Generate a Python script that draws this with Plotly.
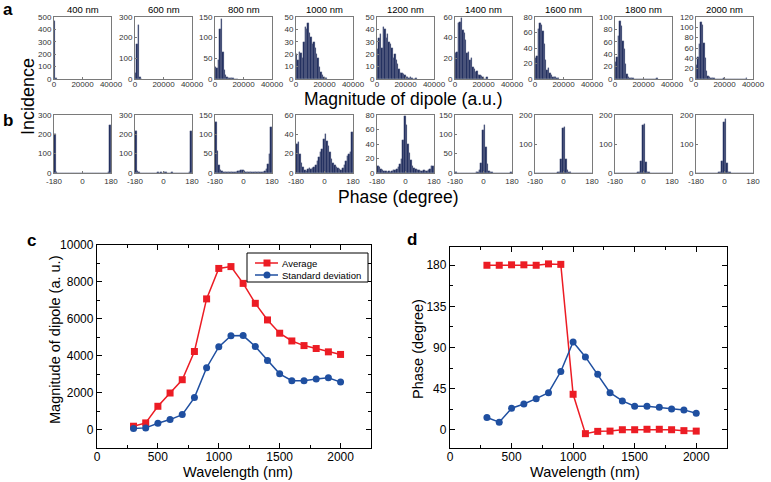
import numpy as np
import plotly.graph_objects as go

# --- histogram data (panel a: magnitude, bin width 1000 a.u.) ---
hist_titles = ['400 nm', '600 nm', '800 nm', '1000 nm', '1200 nm', '1400 nm', '1600 nm', '1800 nm', '2000 nm']

mag_400 = [465, 6]
mag_600 = [30, 170, 262, 8, 2]
mag_800 = [30, 26, 45, 122, 145, 66, 22, 10, 5, 3, 3, 2, 2, 1, 1, 1]
mag_1000 = [20, 15, 22, 21, 17, 30, 42, 40, 45, 37, 34, 28, 30, 25, 20, 17, 10, 6, 3, 2, 1, 1]
mag_1200 = [24, 33, 36, 25, 42, 40, 33, 36, 30, 28, 25, 17, 20, 15, 12, 8, 5, 5, 4, 3, 2, 2, 1, 2, 1, 0, 0, 1]
mag_1400 = [25, 26, 54, 55, 59, 47, 45, 38, 25, 26, 18, 20, 12, 10, 7, 8, 4, 4, 3, 2, 0, 0, 2]
mag_1600 = [27, 30, 65, 72, 70, 62, 45, 25, 12, 14, 8, 5, 3, 2, 2, 1, 1]
mag_1800 = [27, 35, 70, 94, 85, 62, 48, 25, 8, 4, 2, 1, 1, 0, 0, 0, 0, 0, 0, 0, 0, 0, 0, 0, 0, 0, 0, 0, 0, 2]
mag_2000 = [27, 42, 68, 110, 105, 70, 40, 15, 5, 3, 2, 1, 1, 0, 0, 0, 0, 0, 0, 1,
            0, 0, 0, 0, 0, 0, 0, 0, 0, 0, 0, 0, 0, 0, 0, 1]
mag_ymax = [500, 300, 150, 50, 50, 60, 80, 100, 120]
mag_dtick = [100, 100, 50, 10, 10, 20, 20, 20, 20]

# --- histogram data (panel b: phase, bin width 10 degree, -180..180) ---
ph_400 = [200, 5, 2, 1, 1, 1, 0, 1, 0, 1, 0, 0, 1, 0, 1, 0, 0, 1, 1, 0,
          0, 1, 0, 0, 1, 0, 1, 0, 0, 1, 0, 1, 1, 2, 5, 250]
ph_600 = [218, 10, 4, 2, 1, 1, 1, 1, 1, 2, 1, 2, 1, 2, 3, 2, 3, 2, 3, 3,
          2, 2, 2, 3, 2, 2, 1, 1, 1, 1, 1, 1, 1, 2, 4, 215]
ph_800 = [133, 58, 20, 8, 4, 3, 2, 2, 3, 2, 2, 3, 3, 2, 4, 5, 8, 7, 5, 3,
          3, 2, 2, 3, 2, 2, 3, 2, 2, 3, 3, 5, 10, 22, 50, 118]
ph_1000 = [30, 32, 20, 10, 6, 3, 2, 4, 5, 4, 5, 6, 8, 12, 17, 22, 25, 35, 40, 33,
           28, 22, 15, 10, 8, 6, 5, 4, 3, 5, 8, 12, 18, 20, 22, 42]
ph_1200 = [10, 8, 5, 4, 3, 3, 2, 3, 2, 3, 4, 4, 6, 8, 12, 20, 46, 78, 66, 40,
           28, 18, 10, 7, 5, 4, 4, 3, 3, 4, 3, 3, 4, 6, 10, 9]
ph_1400 = [2, 1, 1, 1, 0, 1, 1, 0, 1, 1, 1, 1, 1, 2, 3, 8, 25, 110, 125, 68,
           22, 6, 3, 2, 1, 1, 1, 1, 0, 1, 1, 1, 1, 1, 1, 2]
ph_1600 = [1, 1, 0, 1, 0, 1, 0, 1, 1, 0, 1, 1, 1, 1, 2, 5, 50, 155, 160, 48,
           12, 3, 2, 1, 1, 1, 0, 1, 1, 0, 1, 1, 0, 1, 1, 1]
ph_1800 = [1, 0, 1, 0, 1, 1, 0, 1, 0, 1, 1, 0, 1, 1, 2, 5, 40, 165, 170, 38,
           5, 2, 1, 1, 0, 1, 1, 0, 1, 0, 1, 1, 0, 1, 0, 1]
ph_2000 = [1, 0, 1, 1, 0, 1, 0, 0, 1, 1, 0, 1, 1, 1, 2, 5, 42, 175, 185, 35,
           5, 2, 1, 1, 1, 0, 1, 0, 0, 1, 1, 0, 1, 0, 1, 1]
ph_ymax = [300, 300, 150, 60, 80, 150, 200, 200, 200]
ph_dtick = [100, 100, 50, 20, 20, 50, 100, 100, 100]

mag_hists = [mag_400, mag_600, mag_800, mag_1000, mag_1200, mag_1400, mag_1600, mag_1800, mag_2000]
ph_hists = [ph_400, ph_600, ph_800, ph_1000, ph_1200, ph_1400, ph_1600, ph_1800, ph_2000]

# --- panels c and d ---
wavelength = [300, 400, 500, 600, 700, 800, 900, 1000, 1100, 1200,
              1300, 1400, 1500, 1600, 1700, 1800, 1900, 2000]
avg_mag = [180, 360, 1260, 1980, 2700, 4230, 7080, 8730, 8830, 7920,
           6840, 5940, 5220, 4800, 4550, 4390, 4210, 4070]
std_mag = [50, 90, 340, 540, 810, 1730, 3350, 4480, 5080, 5090,
           4500, 3740, 3020, 2650, 2650, 2740, 2810, 2570]
avg_phase = [180, 180, 180.5, 180.5, 180, 181.5, 181, 38.8, -4.3, -1.8,
             -1.5, 0, 0, 0.5, 0.5, 0, -1, -1.5]
std_phase = [13.4, 8.3, 23.5, 28.2, 34, 40.6, 63.7, 96, 79.7, 60.8,
             40.6, 31.5, 25.7, 25.7, 24.6, 22.8, 21.7, 18.1]
series_names = ['Average', 'Standard deviation']

MAG_BIN = 1000
PH_BIN = 10

W, H = 771, 482
FONT = 'Liberation Sans, Arial, sans-serif'
NAVY = '#1c2a5c'
RED = '#ec1c24'
BLUE = '#1f4fa0'


def fx(px):
    return px / W


def fy(py):
    return 1 - py / H


fig = go.Figure()
layout = {}

panel_left = [54, 135, 215, 296, 377, 455, 535, 615, 696]
panel_w = 57
row_a = (17, 79)
row_b = (115, 173)

small_axis = dict(showline=True, mirror=True, linecolor='#7a7a7a', linewidth=1,
                  ticks='inside', ticklen=2, tickcolor='#7a7a7a',
                  tickfont=dict(size=8, color='#333333', family=FONT),
                  tickformat='d', automargin=False,
                  showgrid=False, zeroline=False)

annotations = []
for i in range(9):
    left = panel_left[i]
    xd = [fx(left), fx(left + panel_w)]
    # row a
    k = i + 1
    counts = mag_hists[i]
    centers = MAG_BIN / 2 + MAG_BIN * np.arange(len(counts))
    fig.add_trace(go.Bar(x=centers, y=counts, width=MAG_BIN,
                         marker=dict(color=NAVY, line=dict(color='#6d7891', width=0.3)),
                         xaxis=f'x{k}', yaxis=f'y{k}', showlegend=False))
    sx = '' if k == 1 else str(k)
    layout[f'xaxis{sx}'] = dict(small_axis, domain=xd, anchor=f'y{sx}', range=[0, 40000],
                                tickvals=[0, 20000, 40000], ticklabelstandoff=-3)
    layout[f'yaxis{sx}'] = dict(small_axis, domain=[fy(row_a[1]), fy(row_a[0])], anchor=f'x{sx}',
                                range=[0, mag_ymax[i]], dtick=mag_dtick[i])
    annotations.append(dict(text=hist_titles[i], x=fx(left + panel_w / 2), y=fy(9),
                            font=dict(size=9.5)))
    # row b
    k = i + 10
    counts = ph_hists[i]
    centers = -180 + PH_BIN / 2 + PH_BIN * np.arange(len(counts))
    fig.add_trace(go.Bar(x=centers, y=counts, width=PH_BIN,
                         marker=dict(color=NAVY, line=dict(color='#6d7891', width=0.3)),
                         xaxis=f'x{k}', yaxis=f'y{k}', showlegend=False))
    layout[f'xaxis{k}'] = dict(small_axis, domain=xd, anchor=f'y{k}', range=[-180, 180],
                               tickvals=[-180, 0, 180], ticktext=['-180', '0', '180'])
    layout[f'yaxis{k}'] = dict(small_axis, domain=[fy(row_b[1]), fy(row_b[0])], anchor=f'x{k}',
                               range=[0, ph_ymax[i]], dtick=ph_dtick[i])

# panel c and d
big_axis = dict(showline=True, mirror='allticks', linecolor='black', linewidth=1.3,
                ticks='inside', ticklen=5, tickwidth=1.2, tickcolor='black',
                tickfont=dict(size=12, color='black', family=FONT),
                tickformat='d', automargin=False,
                showgrid=False, zeroline=False)
minor_ticks = dict(ticklen=3, tickcolor='black', ticks='inside')

for xa, ya, ys in [('x19', 'y19', (avg_mag, std_mag)), ('x20', 'y20', (avg_phase, std_phase))]:
    fig.add_trace(go.Scatter(x=wavelength, y=ys[0], mode='lines+markers', showlegend=False,
                             line=dict(color=RED, width=1.5),
                             marker=dict(symbol='square', size=7, color=RED),
                             xaxis=xa, yaxis=ya))
    fig.add_trace(go.Scatter(x=wavelength, y=ys[1], mode='lines+markers', showlegend=False,
                             line=dict(color=BLUE, width=1.5),
                             marker=dict(symbol='circle', size=7, color=BLUE),
                             xaxis=xa, yaxis=ya))

layout['xaxis19'] = dict(big_axis, domain=[fx(97), fx(371)], anchor='y19', range=[0, 2250],
                         dtick=500, minor=dict(minor_ticks, dtick=250), ticklabelstandoff=-3)
layout['yaxis19'] = dict(big_axis, domain=[fy(448), fy(245)], anchor='x19', range=[-1000, 10000],
                         dtick=2000, minor=dict(minor_ticks, dtick=1000))
layout['xaxis20'] = dict(big_axis, domain=[fx(450), fx(727)], anchor='y20', range=[0, 2250],
                         dtick=500, minor=dict(minor_ticks, dtick=250), ticklabelstandoff=-3)
layout['yaxis20'] = dict(big_axis, domain=[fy(448), fy(247)], anchor='x20', range=[-20, 200],
                         tickvals=[0, 45, 90, 135, 180],
                         minor=dict(minor_ticks, dtick=22.5))

# legend box for panel c (drawn by hand, Plotly legend rows are too tall)
shapes = [
    dict(type='rect', x0=fx(247), x1=fx(368), y0=fy(282), y1=fy(253),
         line=dict(color='black', width=1), fillcolor='white'),
    dict(type='line', x0=fx(255), x1=fx(278), y0=fy(263), y1=fy(263), line=dict(color=RED, width=1.5)),
    dict(type='rect', x0=fx(263.5), x1=fx(270.5), y0=fy(266.5), y1=fy(259.5),
         line=dict(width=0), fillcolor=RED),
    dict(type='line', x0=fx(255), x1=fx(278), y0=fy(275), y1=fy(275), line=dict(color=BLUE, width=1.5)),
    dict(type='circle', x0=fx(263.5), x1=fx(270.5), y0=fy(278.5), y1=fy(271.5),
         line=dict(width=0), fillcolor=BLUE),
]
for s in shapes:
    s.update(xref='paper', yref='paper')

# shared labels
annotations += [
    dict(text='Magnitude of dipole (a.u.)', x=fx(403), y=fy(99), font=dict(size=17.5)),
    dict(text='Phase (degree)', x=fx(398), y=fy(197), font=dict(size=17.5)),
    dict(text='Incidence', x=fx(28), y=fy(97), textangle=-90, font=dict(size=18)),
    dict(text='<b>a</b>', x=fx(8), y=fy(9), font=dict(size=17)),
    dict(text='<b>b</b>', x=fx(8), y=fy(120), font=dict(size=17)),
    dict(text='<b>c</b>', x=fx(31), y=fy(240), font=dict(size=17)),
    dict(text='<b>d</b>', x=fx(412), y=fy(239), font=dict(size=17)),
    dict(text='Wavelength (nm)', x=fx(238), y=fy(472), font=dict(size=14.5)),
    dict(text='Wavelength (nm)', x=fx(585), y=fy(472), font=dict(size=14.5)),
    dict(text='Magnitude of dipole (a. u.)', x=fx(55), y=fy(340), textangle=-90, font=dict(size=14.5)),
    dict(text='Phase (degree)', x=fx(418), y=fy(349), textangle=-90, font=dict(size=14.5)),
]
for a in annotations:
    a.update(xref='paper', yref='paper', showarrow=False, xanchor='center', yanchor='middle')
for name, yy in zip(series_names, [263, 275]):
    annotations.append(dict(text=name, x=fx(280), y=fy(yy), xref='paper', yref='paper',
                            showarrow=False, xanchor='left', yanchor='middle', font=dict(size=9.5)))
for a in annotations:
    a['font'] = dict(a['font'], color='black', family=FONT)

fig.update_layout(
    width=W, height=H,
    margin=dict(l=0, r=0, t=0, b=0, autoexpand=False),
    paper_bgcolor='white', plot_bgcolor='white',
    font=dict(family=FONT, color='black'),
    bargap=0,
    showlegend=False,
    annotations=annotations,
    shapes=shapes,
    **layout,
)

fig.write_html('out.html', config={'displayModeBar': False},
               post_script="document.body.style.margin='0';")
